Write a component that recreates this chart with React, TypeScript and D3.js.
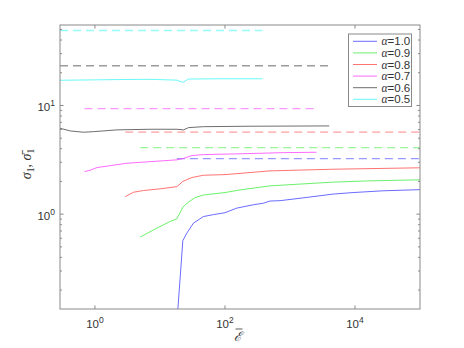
import React from "react";
import * as d3 from "d3";

// series: energy (x) vs sigma (y)
const alphas = ["1.0", "0.9", "0.8", "0.7", "0.6", "0.5"];
const colors = ["#4646ff", "#46ee46", "#ff5050", "#ff46ff", "#4a4a4a", "#46f6f6"];

const blueX = [18.2, 22.5, 25.9, 32.7, 46.6, 66.4, 100, 151, 273, 389, 493, 702, 1425, 4625, 9350, 27100, 100000];
const blueY = [0.1, 0.572, 0.668, 0.826, 0.95, 0.99, 1.03, 1.135, 1.22, 1.26, 1.32, 1.33, 1.4, 1.53, 1.58, 1.64, 1.68];

const greenX = [4.96, 8.96, 14.3, 18.2, 22.5, 27.4, 34.8, 46.6, 100, 171, 493, 1425, 4625, 15070, 100000];
const greenY = [0.615, 0.743, 0.855, 0.905, 1.16, 1.29, 1.42, 1.5, 1.58, 1.67, 1.82, 1.89, 1.97, 2.02, 2.07];

const redX = [2.92, 3.92, 5.58, 10.1, 18.2, 22.5, 30.9, 46.6, 100, 493, 4625, 100000];
const redY = [1.45, 1.59, 1.65, 1.71, 1.79, 2.0, 2.17, 2.28, 2.31, 2.5, 2.59, 2.67];

const magentaX = [0.69, 0.847, 1.07, 3.1, 7.07, 18.2, 22.5, 30.9, 46.6, 135, 789, 2570];
const magentaY = [2.46, 2.54, 2.68, 2.94, 3.04, 3.16, 3.24, 3.46, 3.53, 3.58, 3.68, 3.71];

const blackX = [0.29, 0.418, 0.668, 0.95, 2.18, 7.07, 18.2, 23, 27.4, 46.6, 243, 4020];
const blackY = [6.17, 5.83, 5.67, 5.74, 5.96, 6.04, 6.04, 5.96, 6.25, 6.38, 6.44, 6.48];

const cyanX = [0.29, 2.18, 7.07, 18.2, 22.5, 27.4, 74.8, 376];
const cyanY = [17.05, 17.3, 17.4, 17.1, 16.3, 17.5, 17.6, 17.6];

// dashed bounds (sigma bar), same order as alphas
const boundLevel = [3.24, 4.09, 5.68, 9.35, 23.2, 49];
const boundFrom = [18.2, 4.96, 2.92, 0.69, 0.29, 0.29];
const boundTo = [100000, 100000, 100000, 2630, 4020, 376];

const xTicks = [1, 100, 10000];
const xTickExp = ["0", "2", "4"];
const yTicks = [1, 10];
const yTickExp = ["0", "1"];

const W = 464;
const H = 348;
const left = 60, right = 420, top = 25, bottom = 309;

function App() {
  const x = d3.scaleLog().domain([0.29, 100000]).range([left, right]);
  const y = d3.scaleLog().domain([0.134, 55]).range([bottom, top]);

  const xs = [blueX, greenX, redX, magentaX, blackX, cyanX];
  const ys = [blueY, greenY, redY, magentaY, blackY, cyanY];

  const pathFor = (xv: number[], yv: number[]) =>
    d3
      .line<number>()
      .x((d, i) => x(xv[i]))
      .y((d) => y(d))(yv) || "";

  // minor ticks on y
  const minor: number[] = [];
  for (let e = -1; e <= 1; e++) {
    for (let m = 2; m <= 9; m++) {
      const v = m * Math.pow(10, e);
      if (v > 0.134 && v < 55) minor.push(v);
    }
  }

  const axisCol = "#8a8a8a";
  const txtCol = "#333";
  const sans = "'Liberation Sans', Arial, Helvetica, sans-serif";
  const serif = "'Liberation Serif', 'Times New Roman', serif";

  return (
    <svg width={W} height={H} style={{ position: "absolute", left: 0, top: 0, background: "#fff" }}>
      <defs>
        <clipPath id="plotclip">
          <rect x={left} y={top} width={right - left} height={bottom - top} />
        </clipPath>
      </defs>
      <rect x={left} y={top} width={right - left} height={bottom - top} fill="#fff" />

      <g clipPath="url(#plotclip)">
        {boundLevel.map((v, i) => (
          <line
            key={"b" + i}
            x1={x(boundFrom[i])}
            x2={x(boundTo[i])}
            y1={y(v)}
            y2={y(v)}
            stroke={colors[i]}
            strokeOpacity={0.55}
            strokeWidth={1.4}
            strokeDasharray="8,5"
          />
        ))}
        {xs.map((xv, i) => (
          <path key={"s" + i} d={pathFor(xv, ys[i])} fill="none" stroke={colors[i]} strokeOpacity={0.8} strokeWidth={1} />
        ))}
      </g>

      {/* box */}
      <rect x={left} y={top} width={right - left} height={bottom - top} fill="none" stroke={axisCol} strokeWidth={1} />

      {/* x ticks */}
      {xTicks.map((t, i) => (
        <g key={"xt" + i}>
          <line x1={x(t)} x2={x(t)} y1={bottom} y2={bottom - 3.6} stroke={axisCol} />
          <line x1={x(t)} x2={x(t)} y1={top} y2={top + 3.6} stroke={axisCol} />
          <text x={x(t)} y={bottom + 19} textAnchor="middle" fontFamily={sans} fontSize={11.5} fill={txtCol}>
            10
            <tspan dy={-5} fontSize={8.5}>{xTickExp[i]}</tspan>
          </text>
        </g>
      ))}

      {/* y ticks */}
      {yTicks.map((t, i) => (
        <g key={"yt" + i}>
          <line x1={left} x2={left + 3.6} y1={y(t)} y2={y(t)} stroke={axisCol} />
          <line x1={right} x2={right - 3.6} y1={y(t)} y2={y(t)} stroke={axisCol} />
          <text x={left - 5} y={y(t) + 6} textAnchor="end" fontFamily={sans} fontSize={11.5} fill={txtCol}>
            10
            <tspan dy={-5} fontSize={8.5}>{yTickExp[i]}</tspan>
          </text>
        </g>
      ))}
      {minor.map((t, i) => (
        <g key={"ym" + i}>
          <line x1={left} x2={left + 2} y1={y(t)} y2={y(t)} stroke={axisCol} />
          <line x1={right} x2={right - 2} y1={y(t)} y2={y(t)} stroke={axisCol} />
        </g>
      ))}

      {/* axis labels */}
      <text x={238} y={341} textAnchor="middle" fontFamily={serif} fontStyle="italic" fontSize={13} fill={txtCol}>
        ℰ
      </text>
      <line x1={235.5} x2={242.5} y1={329} y2={329} stroke={txtCol} strokeWidth={0.8} />

      <text
        transform="translate(31,164) rotate(-90)"
        textAnchor="middle"
        fontFamily={serif}
        fontSize={14}
        fill={txtCol}
      >
        <tspan fontStyle="italic">σ</tspan>
        <tspan fontSize={9.5} dy={3}>1</tspan>
        <tspan dy={-3}>, </tspan>
        <tspan fontStyle="italic">σ̄</tspan>
        <tspan fontSize={9.5} dy={3}>1</tspan>
      </text>

      {/* legend */}
      <rect x={348.5} y={34} width={63} height={72.5} fill="#fff" stroke={axisCol} strokeWidth={1} />
      {alphas.map((a, i) => {
        const ly = 41.3 + i * 11.6;
        return (
          <g key={"lg" + i}>
            <line x1={353} x2={377} y1={ly} y2={ly} stroke={colors[i]} strokeOpacity={0.8} strokeWidth={1} />
            <text x={381.5} y={ly + 4} fontFamily={sans} fontSize={11.5} fill={txtCol}>
              <tspan fontFamily={serif} fontStyle="italic">α</tspan>={a}
            </text>
          </g>
        );
      })}
    </svg>
  );
}

export default App;
